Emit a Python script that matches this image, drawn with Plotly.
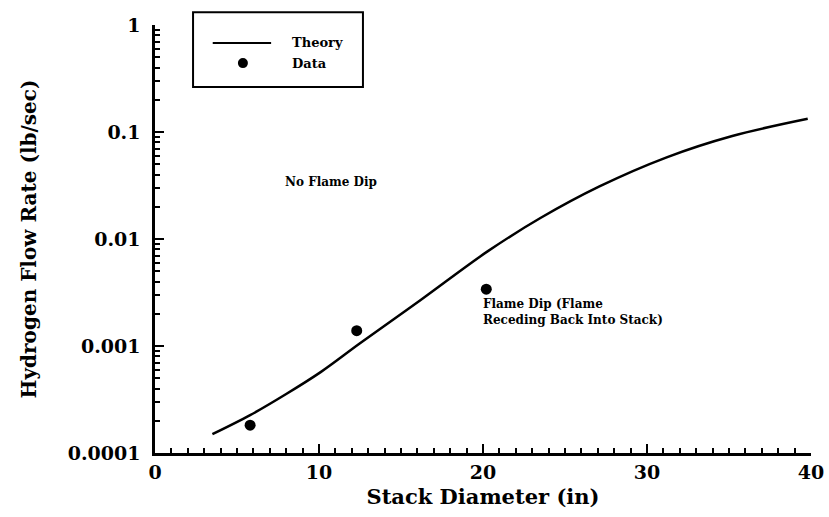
import math
import plotly.graph_objects as go

# theory curve
theory_x = [3.5, 5.8, 8.0, 10.1, 12.5, 16.2, 20.3, 23.5, 27.1, 31.2, 35.2, 39.8]
theory_y = [1.5e-4, 2.26e-4, 3.56e-4, 5.7e-4, 1.06e-3, 2.69e-3, 7.7e-3, 0.0157, 0.031,
            0.058, 0.0918, 0.133]

# measured points
data_x = [5.8, 12.3, 20.2]
data_y = [1.82e-4, 1.39e-3, 3.4e-3]

y_ticks = [1e-4, 1e-3, 1e-2, 1e-1, 1]
y_ticktext = ["0.0001", "0.001", "0.01", "0.1", "1"]

FONT = "DejaVu Serif"

fig = go.Figure()
fig.add_trace(go.Scatter(
    x=theory_x, y=theory_y, mode="lines", name="Theory",
    line=dict(color="black", width=2.5, shape="spline", smoothing=1.0),
))
fig.add_trace(go.Scatter(
    x=data_x, y=data_y, mode="markers", name="Data",
    marker=dict(color="black", size=11),
))

# hand-drawn legend box like the original
fig.add_shape(type="rect", xref="paper", yref="paper", x0=0.058, x1=0.317, y0=0.855, y1=1.03,
              line=dict(color="black", width=2), fillcolor="white")
fig.add_shape(type="line", xref="paper", yref="paper", x0=0.088, x1=0.177, y0=0.958, y1=0.958,
              line=dict(color="black", width=2))
fig.add_shape(type="circle", xref="paper", yref="paper", xsizemode="pixel", ysizemode="pixel",
              xanchor=0.134, yanchor=0.911, x0=-5, x1=5, y0=-5, y1=5,
              fillcolor="black", line=dict(color="black", width=0))
for txt, yy in [("Theory", 0.958), ("Data", 0.911)]:
    fig.add_annotation(text=f"<b>{txt}</b>", xref="paper", yref="paper", x=0.206, y=yy,
                       xanchor="left", yanchor="middle", showarrow=False,
                       font=dict(family=FONT, size=13, color="black"))

# log axis: annotation y is given in log10 units
fig.add_annotation(text="<b>No Flame Dip</b>", x=7.8, y=math.log10(0.034), xanchor="left",
                   yanchor="middle", showarrow=False, font=dict(family=FONT, size=12, color="black"))
fig.add_annotation(text="<b>Flame Dip (Flame<br>Receding Back Into Stack)</b>", x=19.9,
                   y=math.log10(2.1e-3), xanchor="left", yanchor="middle", align="left",
                   showarrow=False, font=dict(family=FONT, size=12, color="black"))

fig.update_layout(
    width=829, height=517,
    paper_bgcolor="white", plot_bgcolor="white",
    showlegend=False,
    margin=dict(l=155, r=18, t=25, b=64),
    font=dict(family=FONT, color="black"),
)
fig.update_xaxes(
    range=[0, 40], dtick=10, ticks="inside", ticklen=9, tickwidth=2, tickcolor="black",
    minor=dict(ticks="inside", dtick=1, ticklen=5, tickwidth=1.5, tickcolor="black"),
    showline=True, linecolor="black", linewidth=2.5, showgrid=False, zeroline=False,
    tickfont=dict(family=FONT, size=19, color="black"), tickprefix="<b>", ticksuffix="</b>",
    automargin=False,
    title=dict(text="<b>Stack Diameter (in)</b>", font=dict(family=FONT, size=21, color="black"), standoff=8),
)
fig.update_yaxes(
    type="log", range=[-4, 0], tickvals=y_ticks, ticktext=[f"<b>{t}</b>" for t in y_ticktext],
    ticks="inside", ticklen=9, tickwidth=2, tickcolor="black",
    minor=dict(ticks="inside", dtick="D1", ticklen=5, tickwidth=1.5, tickcolor="black"),
    showline=True, linecolor="black", linewidth=2.5, showgrid=False, zeroline=False,
    tickfont=dict(family=FONT, size=19, color="black"), ticklabelstandoff=8,
    automargin=False,
    title=dict(text="<b>Hydrogen Flow Rate (lb/sec)</b>", font=dict(family=FONT, size=20, color="black"),
               standoff=26),
)

# drop the default body margin so the 829x517 figure fills the window exactly
fig.write_html("out.html", config={"displayModeBar": False},
               post_script="document.body.style.margin='0';")
